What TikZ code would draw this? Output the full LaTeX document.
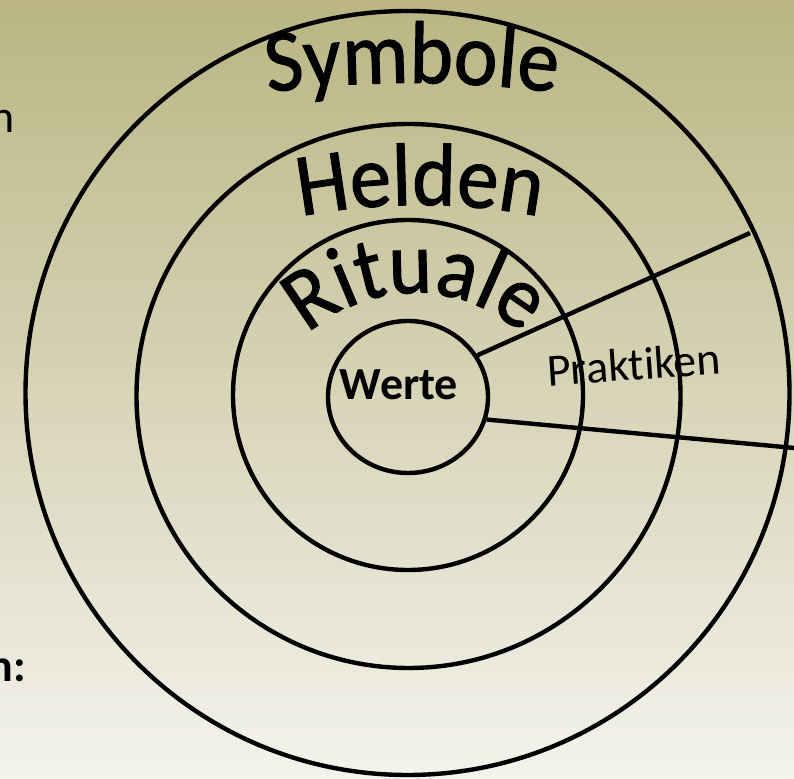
\documentclass[tikz,border=0pt]{standalone}
\usepackage{fontspec}
\setmainfont[Ligatures={NoCommon,NoContextual}]{Carlito}
\newfontfamily\titlefamily[FakeStretch=0.93, FakeBold=1.2]{Carlito}
\usetikzlibrary{shapes.geometric,decorations.text}
\definecolor{bgtop}{RGB}{186,181,131}
\definecolor{bgmid}{RGB}{215,211,180}
\definecolor{bgbot}{RGB}{244,243,236}
\newcommand\fontbig{\titlefamily\fontsize{89}{95}\selectfont}
\newcommand\fontmid{\fontsize{46}{52}\selectfont}
\begin{document}
\begin{tikzpicture}[x=1pt,y=1pt,
  ring/.style={circle, draw=black, line width=4.4pt, inner sep=0pt},
  spoke/.style={draw=black, line width=4.4pt},
  arctext/.style={decorate, decoration={text along path, text align=center, text={#1}}}]
\useasboundingbox (0,0) rectangle (794,778);
\shade[top color=bgtop, middle color=bgmid, bottom color=bgbot] (0,0) rectangle (794,778);
% rings
\node[ring, minimum size=764] (outer) at (407.5,385) {};
\node[ring, minimum size=544] (helden) at (408.5,382) {};
\node[ring, minimum size=350] (rituale) at (408,383) {};
\node[ellipse, draw=black, line width=4.4pt, inner sep=0pt, minimum width=160, minimum height=152] (werte) at (408,381) {};
% spokes
\coordinate (e1) at (750,545);
\coordinate (e2) at (800,329.5);
\draw[spoke] (werte.31) -- (e1);
\draw[spoke] (werte.-16) -- (e2);
% labels
\node[anchor=base, font=\fontmid\bfseries, inner sep=0pt] (wertetext) at (399,378) {Werte};
\node[anchor=base, font=\fontmid, rotate=4, inner sep=0pt] (praktiken) at (635,398) {Praktiken};
\node[anchor=base east, font=\fontmid, inner sep=0pt] (leftA) at (15,645) {n};
\node[anchor=base east, font=\fontmid\bfseries, inner sep=0pt] (leftB) at (26,96) {n:};
% curved titles
\path[arctext={|\fontbig|Symbole}] (412,-405) ++(100:1100) arc[start angle=100, end angle=80, radius=1100];
\path[arctext={|\fontbig|Helden}] (420,-57) ++(105:630) arc[start angle=105, end angle=75, radius=630];
\path[arctext={|\fontbig|Rituale}] (415,325) ++(150:160) arc[start angle=150, end angle=30, radius=160];
\end{tikzpicture}
\end{document}
